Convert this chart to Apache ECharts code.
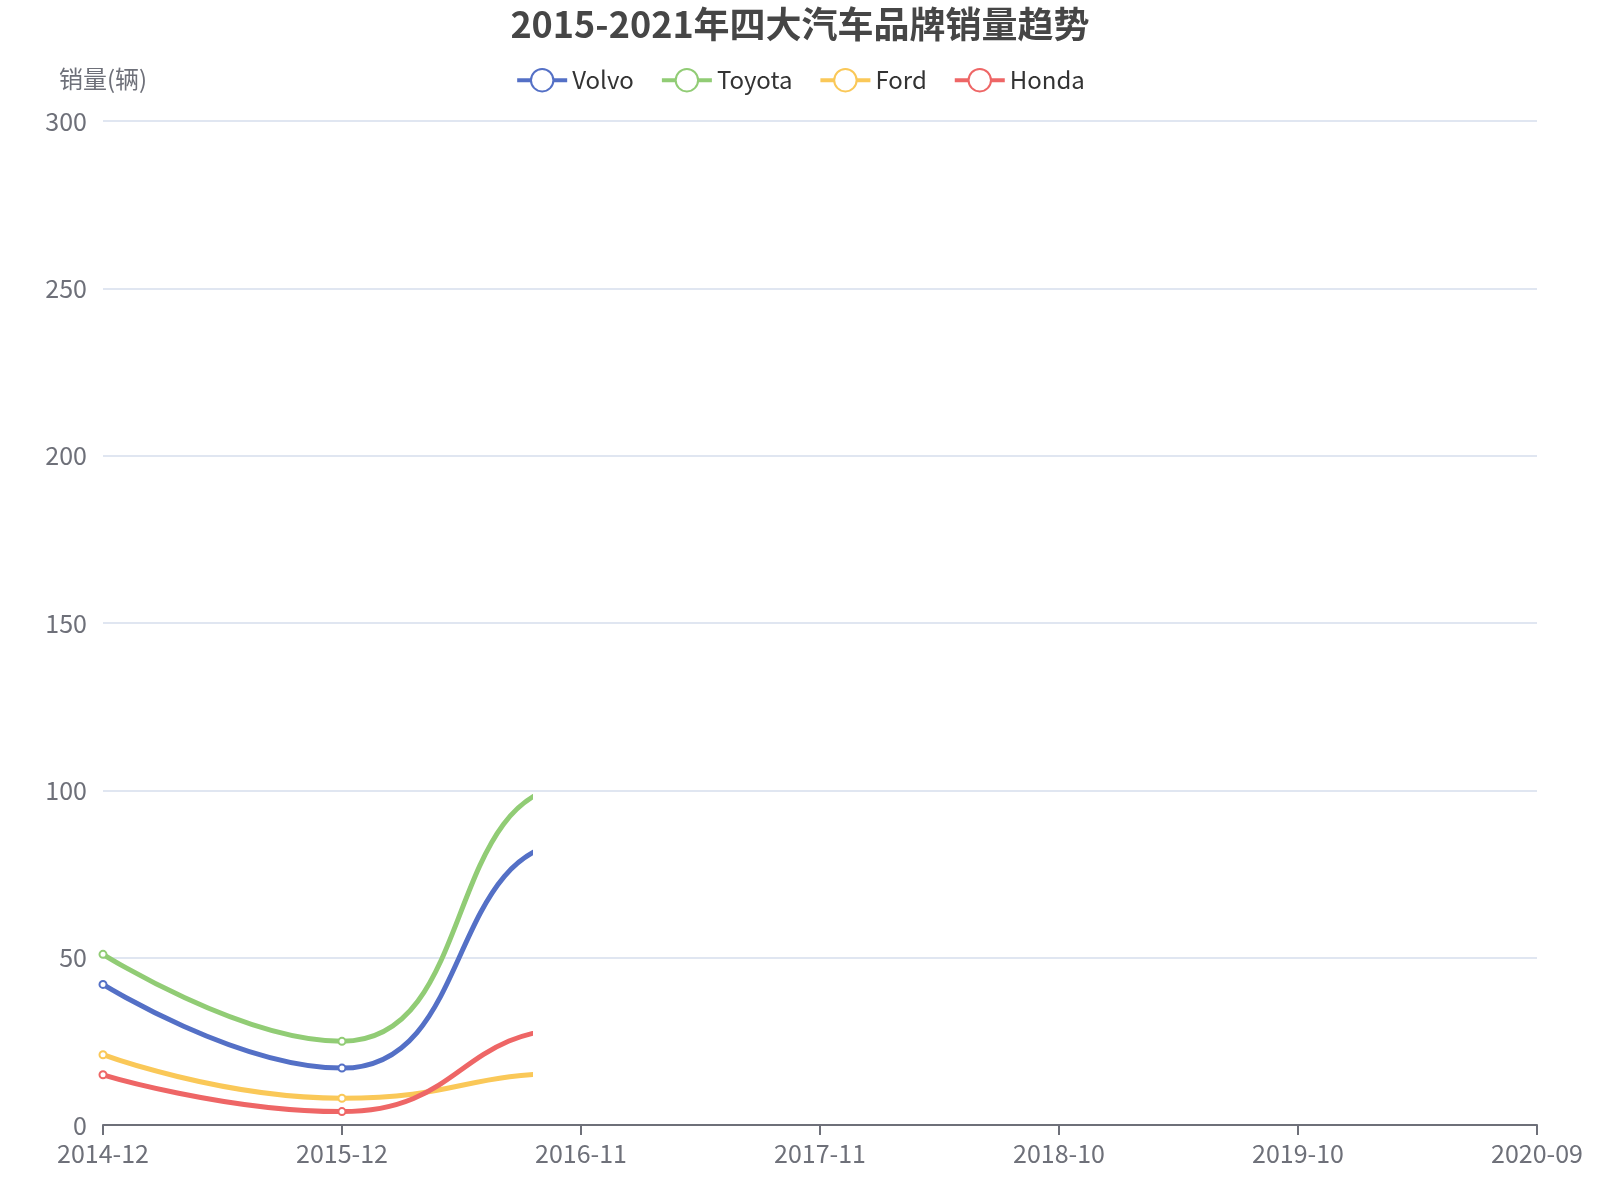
<!DOCTYPE html>
<html>
<head>
<meta charset="utf-8">
<title>2015-2021年四大汽车品牌销量趋势</title>
<script src="https://cdn.jsdelivr.net/npm/echarts@6/dist/echarts.min.js"></script>
<style>
  html, body { margin: 0; padding: 0; background: #fff; }
  #container { width: 1600px; height: 1200px; }
</style>
</head>
<body>
<div id="container"></div>
<script>
// x axis tick labels (one per data slot)
let periods = ['2014-12', '2015-12', '2016-11', '2017-11', '2018-10', '2019-10', '2020-09'];
// sales per slot; only the first slots are visible in the picture,
// the 4th value only shapes the curve before the cut
let volvo = [42, 17, 85, 70];
let toyota = [51, 25, 102, 85];
let ford = [21, 8, 15.6, 12];
let honda = [15, 4, 29, 22];
// lines are drawn only up to this position on the category axis
let revealTo = 1.787;

let seriesNames = ['Volvo', 'Toyota', 'Ford', 'Honda'];
let seriesData = [volvo, toyota, ford, honda];
let colors = ['#5470c6', '#91cc75', '#fac858', '#ee6666'];
let font = '"Noto Sans CJK SC", "Noto Sans", sans-serif';

let dom = document.getElementById('container');
let myChart = echarts.init(dom);

let gridBox = { left: 103, top: 121, bottom: 75 };

let option = {
    animation: false,
    color: colors,
    textStyle: { fontFamily: font },
    title: {
        text: '2015-2021年四大汽车品牌销量趋势',
        left: 'center',
        top: 0,
        padding: [6, 10],
        textStyle: { fontSize: 36, fontWeight: 'bold', color: '#464646', fontFamily: font }
    },
    legend: {
        top: 58,
        padding: 10,
        itemWidth: 50,
        itemHeight: 28,
        itemGap: 26,
        lineStyle: { width: 4 },
        itemStyle: { borderWidth: 4 },
        textStyle: { fontSize: 24, color: '#333', fontFamily: font },
        data: seriesNames
    },
    grid: [
        Object.assign({ right: 63 }, gridBox),
        // same scale as the first grid, narrower so the lines stop at revealTo
        Object.assign({ right: 1600 - 103 - Math.round(1434 * revealTo / 6) }, gridBox)
    ],
    xAxis: [
        {
            type: 'category',
            gridIndex: 0,
            boundaryGap: false,
            data: periods,
            axisLine: { lineStyle: { color: '#6E7079', width: 2 } },
            axisTick: { length: 10, lineStyle: { width: 2 } },
            axisLabel: { fontSize: 25, color: '#6E7079', margin: 16, interval: 0 }
        },
        {
            type: 'value',
            gridIndex: 1,
            min: 0,
            max: revealTo,
            show: false
        }
    ],
    yAxis: [
        {
            type: 'value',
            gridIndex: 0,
            min: 0,
            max: 300,
            interval: 50,
            name: '销量(辆)',
            nameGap: 30,
            nameTextStyle: { fontSize: 24, color: '#6E7079' },
            axisLabel: { fontSize: 25, color: '#6E7079', margin: 16 },
            splitLine: { lineStyle: { color: '#E0E6F1', width: 2 } }
        },
        {
            type: 'value',
            gridIndex: 1,
            min: 0,
            max: 300,
            show: false
        }
    ],
    series: seriesNames.map((name, i) => ({
        name: name,
        type: 'line',
        xAxisIndex: 1,
        yAxisIndex: 1,
        smooth: true,
        clip: true,
        symbol: 'emptyCircle',
        symbolSize: 7,
        lineStyle: { width: 5 },
        itemStyle: { borderWidth: 4 },
        data: seriesData[i].map((v, k) => [k, v])
    }))
};

myChart.setOption(option);
</script>
</body>
</html>
